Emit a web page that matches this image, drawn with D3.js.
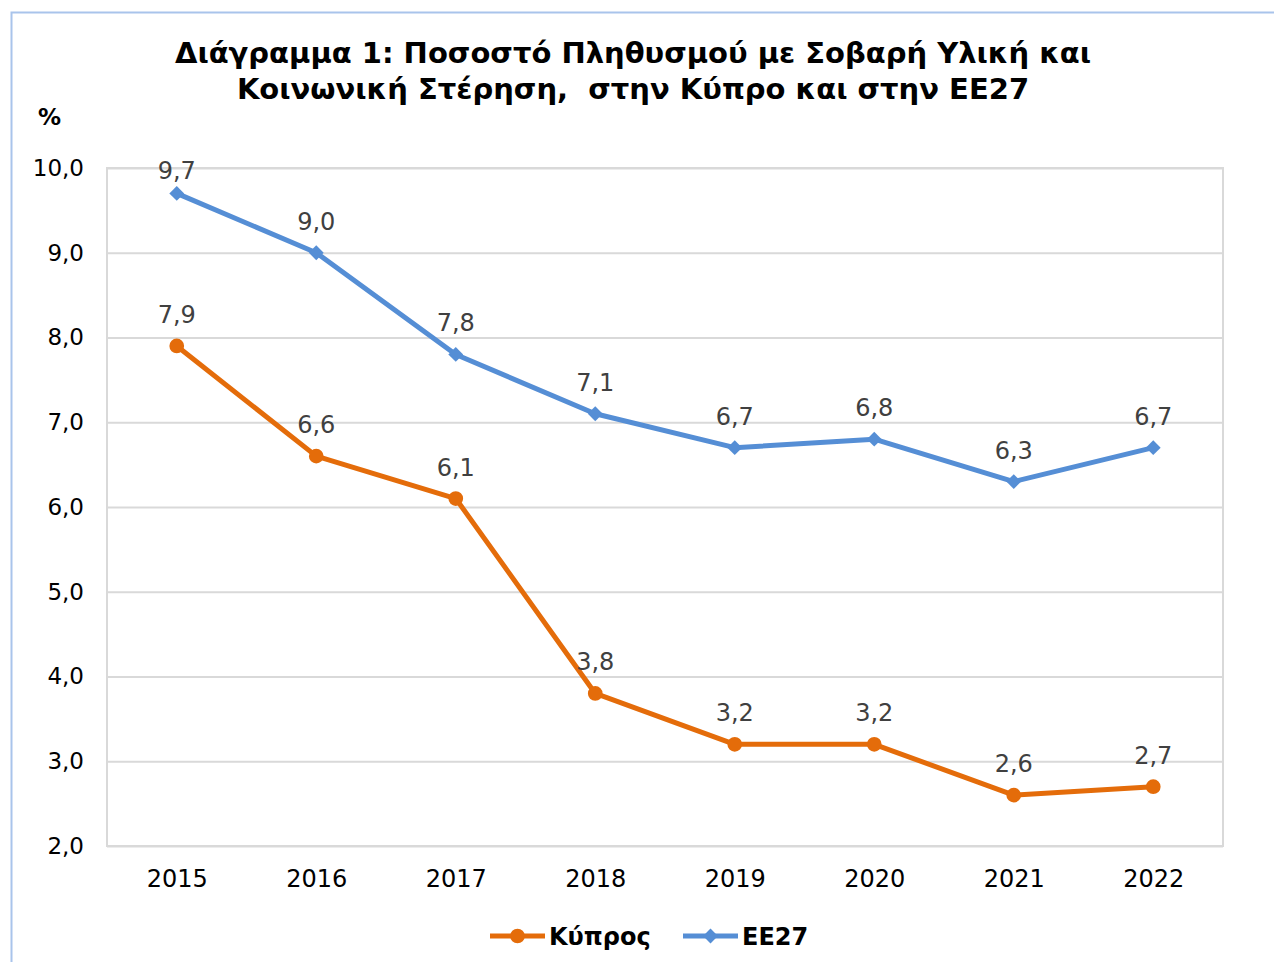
<!DOCTYPE html>
<html lang="el">
<head>
<meta charset="UTF-8">
<script src="https://d3js.org/d3.v7.min.js"></script>
<title>Διάγραμμα 1</title>
<style>
  body { margin: 0; background: #fff; }
  svg { display: block; font-family: "DejaVu Sans", Verdana, sans-serif; }
</style>
</head>
<body>
<svg id="chart"></svg>
<script>
const years = ["2015", "2016", "2017", "2018", "2019", "2020", "2021", "2022"];
const cyprus = [7.9, 6.6, 6.1, 3.8, 3.2, 3.2, 2.6, 2.7];
const eu27 = [9.7, 9.0, 7.8, 7.1, 6.7, 6.8, 6.3, 6.7];
const yTicks = [2, 3, 4, 5, 6, 7, 8, 9, 10];
const seriesNames = ["Κύπρος", "ΕΕ27"];
const titleLines = ["Διάγραμμα 1: Ποσοστό Πληθυσμού με Σοβαρή Υλική και", "Κοινωνική Στέρηση,  στην Κύπρο και στην ΕΕ27"];

const w = 1274, h = 962;
const orange = "#E46C0A", blue = "#558ED5";
const margin = {top: 168, right: 51, bottom: 116, left: 107};

const svg = d3.select("#chart").attr("width", w).attr("height", h);

// outer frame
svg.append("path")
   .attr("d", `M11.5,${h} V12.5 H${w}`)
   .attr("fill", "none")
   .attr("stroke", "#A9C4EB")
   .attr("stroke-width", 2);

const fmt = v => d3.format(".1f")(v).replace(".", ",");

const x = d3.scalePoint()
            .domain(years)
            .range([margin.left, w - margin.right])
            .padding(0.5);

const y = d3.scaleLinear()
            .domain([2, 10])
            .range([h - margin.bottom, margin.top]);

// title
svg.append("text")
   .attr("x", 633)
   .attr("y", 63)
   .attr("text-anchor", "middle")
   .attr("xml:space", "preserve")
   .style("white-space", "pre")
   .style("font-weight", "bold")
   .style("font-size", "29px")
   .selectAll("tspan")
   .data(titleLines)
   .enter()
   .append("tspan")
   .attr("x", 633)
   .attr("dy", (d, i) => i === 0 ? 0 : 36)
   .text(d => d);

svg.append("text")
   .attr("x", 38)
   .attr("y", 125)
   .style("font-weight", "bold")
   .style("font-size", "23px")
   .text("%");

// gridlines
const yAxis = d3.axisLeft(y)
                .tickValues(yTicks)
                .tickSize(-(w - margin.left - margin.right))
                .tickPadding(23)
                .tickFormat(fmt);

const gy = svg.append("g")
   .attr("transform", `translate(${margin.left},0)`)
   .call(yAxis);
gy.select(".domain").remove();
gy.selectAll(".tick line").attr("stroke", "#D9D9D9").attr("stroke-width", 2);
gy.selectAll(".tick text")
  .attr("fill", "#000")
  .style("font-size", "23px")
  .style("font-family", "DejaVu Sans, Verdana, sans-serif");

// plot border
svg.append("rect")
   .attr("x", margin.left)
   .attr("y", margin.top)
   .attr("width", w - margin.left - margin.right)
   .attr("height", h - margin.top - margin.bottom)
   .attr("fill", "none")
   .attr("stroke", "#D9D9D9")
   .attr("stroke-width", 2);

const xAxis = d3.axisBottom(x).tickSize(0).tickPadding(24);
const gx = svg.append("g")
   .attr("transform", `translate(0,${h - margin.bottom})`)
   .call(xAxis);
gx.select(".domain").remove();
gx.selectAll(".tick text")
  .attr("fill", "#000")
  .style("font-size", "24px")
  .style("font-family", "DejaVu Sans, Verdana, sans-serif");

const line = d3.line()
               .x((d, i) => x(years[i]))
               .y(d => y(d));

const circleSym = d3.symbol().type(d3.symbolCircle).size(170);
const diamondSym = d3.symbol().type(d3.symbolSquare).size(110);

function drawSeries(vals, color, isDiamond) {
    svg.append("path")
       .datum(vals)
       .attr("d", line)
       .attr("fill", "none")
       .attr("stroke", color)
       .attr("stroke-width", 5)
       .attr("stroke-linejoin", "round");

    svg.selectAll(null)
       .data(vals)
       .enter()
       .append("path")
       .attr("transform", (d, i) => `translate(${x(years[i])},${y(d)})` + (isDiamond ? " rotate(45)" : ""))
       .attr("d", isDiamond ? diamondSym : circleSym)
       .attr("fill", color);

    // labels sit above the point, but not higher than just over the plot top
    svg.selectAll(null)
       .data(vals)
       .enter()
       .append("text")
       .attr("x", (d, i) => x(years[i]))
       .attr("y", d => Math.max(y(d) - 23, margin.top + 11))
       .attr("text-anchor", "middle")
       .attr("fill", "#404040")
       .style("font-size", "24px")
       .text(d => fmt(d));
}

drawSeries(cyprus, orange, false);
drawSeries(eu27, blue, true);

// legend
const legend = [
    {name: seriesNames[0], color: orange, diamond: false, x: 490},
    {name: seriesNames[1], color: blue, diamond: true, x: 683}
];
const lg = svg.selectAll(".legend")
   .data(legend)
   .enter()
   .append("g")
   .attr("transform", d => `translate(${d.x},936)`);
lg.append("line")
  .attr("x1", 0).attr("x2", 55)
  .attr("stroke", d => d.color)
  .attr("stroke-width", 5);
lg.append("path")
  .attr("transform", d => "translate(27.5,0)" + (d.diamond ? " rotate(45)" : ""))
  .attr("d", d => d.diamond ? diamondSym() : circleSym())
  .attr("fill", d => d.color);
lg.append("text")
  .attr("x", 59)
  .attr("y", 9)
  .style("font-weight", "bold")
  .style("font-size", "24px")
  .text(d => d.name);
</script>
</body>
</html>
